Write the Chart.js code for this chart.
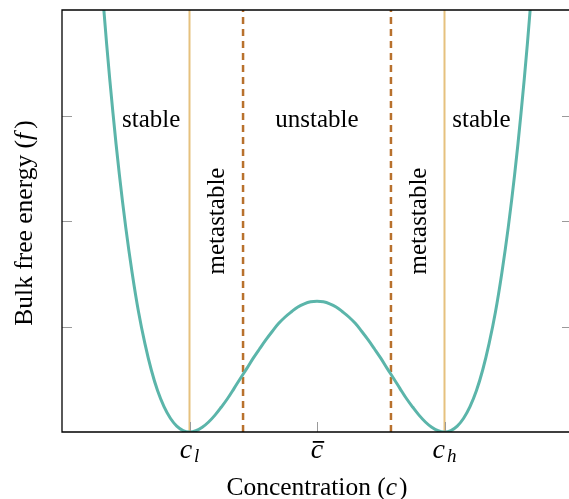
<!DOCTYPE html>
<html>
<head>
<meta charset="utf-8">
<script src="https://cdn.jsdelivr.net/npm/chart.js@4.4.1/dist/chart.umd.min.js"></script>
<style>
  html, body { margin: 0; padding: 0; overflow: hidden; background: #fff; }
  #wrap { width: 572px; height: 499px; }
</style>
</head>
<body>
<div id="wrap"><canvas id="energyChart"></canvas></div>
<script>
// concentration (scaled so that c_l = -1, c_bar = 0, c_h = 1) and bulk free energy
const concentration = [-1.7, -1.65, -1.6, -1.55, -1.5, -1.45, -1.4, -1.35, -1.3, -1.25, -1.2, -1.15, -1.1, -1.05,
                       -1.0, -0.95, -0.9, -0.85, -0.8, -0.75, -0.7, -0.65, -0.6, -0.55, -0.5, -0.45, -0.4, -0.35,
                       -0.3, -0.25, -0.2, -0.15, -0.1, -0.05, 0, 0.05, 0.1, 0.15, 0.2, 0.25, 0.3, 0.35, 0.4, 0.45,
                       0.5, 0.55, 0.6, 0.65, 0.7, 0.75, 0.8, 0.85, 0.9, 0.95, 1.0, 1.05, 1.1, 1.15, 1.2, 1.25,
                       1.3, 1.35, 1.4, 1.45, 1.5, 1.55, 1.6, 1.65, 1.7];
const freeEnergy = [4.43, 3.68, 3.02, 2.44, 1.94, 1.51, 1.14, 0.84, 0.59, 0.39, 0.24, 0.13, 0.055, 0.013,
                    0, 0.012, 0.045, 0.095, 0.16, 0.237, 0.32, 0.414, 0.51, 0.603, 0.70, 0.789, 0.875, 0.955,
                    1.03, 1.09, 1.14, 1.185, 1.215, 1.234, 1.24, 1.234, 1.215, 1.185, 1.14, 1.09, 1.03, 0.955,
                    0.875, 0.789, 0.70, 0.603, 0.51, 0.414, 0.32, 0.237, 0.16, 0.095, 0.045, 0.012, 0, 0.013,
                    0.055, 0.13, 0.24, 0.39, 0.59, 0.84, 1.14, 1.51, 1.94, 2.44, 3.02, 3.68, 4.43];
const binodal = [-1, 1];        // c_l, c_h
const spinodal = [-0.58, 0.58];
const xTicks = [-1, 0, 1];
const xTickNames = ['l', 'bar', 'h'];
const yTicks = [1, 2, 3];
const regionNames = ['stable', 'metastable', 'unstable', 'metastable', 'stable'];

const SERIF = '"Liberation Serif", "DejaVu Serif", serif';

function vline(x, color, width, dash) {
    return {
        data: [{ x: x, y: 0 }, { x: x, y: 4 }],
        borderColor: color,
        borderWidth: width,
        borderDash: dash,
        pointRadius: 0,
        order: 2
    };
}

const decorPlugin = {
    id: 'decor',
    afterDraw(chart) {
        const ctx = chart.ctx;
        const xs = chart.scales.x, ys = chart.scales.y;
        const area = chart.chartArea;
        ctx.save();

        // inner ticks
        ctx.strokeStyle = '#9a9a9a';
        ctx.lineWidth = 1;
        yTicks.forEach(v => {
            const py = Math.round(ys.getPixelForValue(v)) + 0.5;
            ctx.beginPath();
            ctx.moveTo(area.left, py); ctx.lineTo(area.left + 10, py);
            ctx.moveTo(area.right, py); ctx.lineTo(area.right - 10, py);
            ctx.stroke();
        });
        xTicks.forEach(v => {
            const px = Math.round(xs.getPixelForValue(v)) + 0.5;
            ctx.beginPath();
            ctx.moveTo(px, area.bottom); ctx.lineTo(px, area.bottom - 10);
            ctx.stroke();
        });

        // frame
        ctx.strokeStyle = '#000';
        ctx.lineWidth = 1.3;
        ctx.beginPath();
        ctx.moveTo(area.right, area.top);
        ctx.lineTo(area.left, area.top);
        ctx.lineTo(area.left, area.bottom);
        ctx.lineTo(area.right, area.bottom);
        ctx.stroke();

        ctx.fillStyle = '#000';
        ctx.textBaseline = 'alphabetic';

        // x tick labels
        xTicks.forEach((v, i) => {
            const px = xs.getPixelForValue(v);
            const base = area.bottom + 26;
            const name = xTickNames[i];
            ctx.font = 'italic 28px ' + SERIF;
            const cw = ctx.measureText('c').width;
            ctx.textAlign = 'left';
            if (name === 'bar') {
                ctx.fillText('c', px - cw / 2, base);
                ctx.fillRect(px - cw / 2 + 2, base - 17, cw - 1, 1.8);
            } else {
                ctx.font = 'italic 19px ' + SERIF;
                const sw = ctx.measureText(name).width;
                const total = cw + 2 + sw;
                ctx.font = 'italic 28px ' + SERIF;
                ctx.fillText('c', px - total / 2, base);
                ctx.font = 'italic 19px ' + SERIF;
                ctx.fillText(name, px - total / 2 + cw + 2, base + 4);
            }
        });

        // axis titles with italic symbols
        function mixed(parts, cx, cy, rotate) {
            ctx.save();
            ctx.translate(cx, cy);
            if (rotate) ctx.rotate(-Math.PI / 2);
            let total = 0;
            parts.forEach(p => { ctx.font = p[1] + ' 25.5px ' + SERIF; total += ctx.measureText(p[0]).width + (p[2] || 0); });
            let x = -total / 2;
            ctx.textAlign = 'left';
            parts.forEach(p => {
                ctx.font = p[1] + ' 25.5px ' + SERIF;
                ctx.fillText(p[0], x, 0);
                x += ctx.measureText(p[0]).width + (p[2] || 0);
            });
            ctx.restore();
        }
        mixed([['Concentration (', 'normal'], ['c', 'italic', 2], [')', 'normal']],
              xs.getPixelForValue(0), 495, false);
        mixed([['Bulk free energy (', 'normal'], ['f', 'italic', 4], [')', 'normal']],
              32, ys.getPixelForValue(2) + 2, true);

        // region labels
        const spots = [[-1.30, 2.89, false], [-0.78, 2.0, true], [0, 2.89, false], [0.80, 2.0, true], [1.29, 2.89, false]];
        ctx.font = '25px ' + SERIF;
        ctx.textAlign = 'center';
        regionNames.forEach((t, i) => {
            const px = xs.getPixelForValue(spots[i][0]);
            const py = ys.getPixelForValue(spots[i][1]);
            ctx.save();
            ctx.translate(px, py);
            if (spots[i][2]) {
                ctx.rotate(-Math.PI / 2);
                ctx.textBaseline = 'middle';
            } else {
                ctx.textBaseline = 'alphabetic';
            }
            ctx.fillText(t, 0, 0);
            ctx.restore();
        });
        ctx.restore();
    }
};

new Chart(document.getElementById('energyChart').getContext('2d'), {
    type: 'line',
    data: {
        datasets: [
            {
                data: concentration.map((c, i) => ({ x: c, y: freeEnergy[i] })),
                borderColor: '#5bb5aa',
                borderWidth: 3,
                pointRadius: 0,
                tension: 0.4,
                order: 0
            },
            vline(binodal[0], '#e6c17e', 2, []),
            vline(binodal[1], '#e6c17e', 2, []),
            vline(spinodal[0], '#b8712d', 2.5, [7, 5]),
            vline(spinodal[1], '#b8712d', 2.5, [7, 5])
        ]
    },
    options: {
        responsive: true,
        maintainAspectRatio: false,
        animation: false,
        layout: { padding: { left: 62, top: 10, right: 0, bottom: 67 } },
        plugins: { legend: { display: false }, tooltip: { enabled: false } },
        scales: {
            x: { type: 'linear', min: -2, max: 2, display: false },
            y: { type: 'linear', min: 0, max: 4, display: false }
        }
    },
    plugins: [decorPlugin]
});
</script>
</body>
</html>
